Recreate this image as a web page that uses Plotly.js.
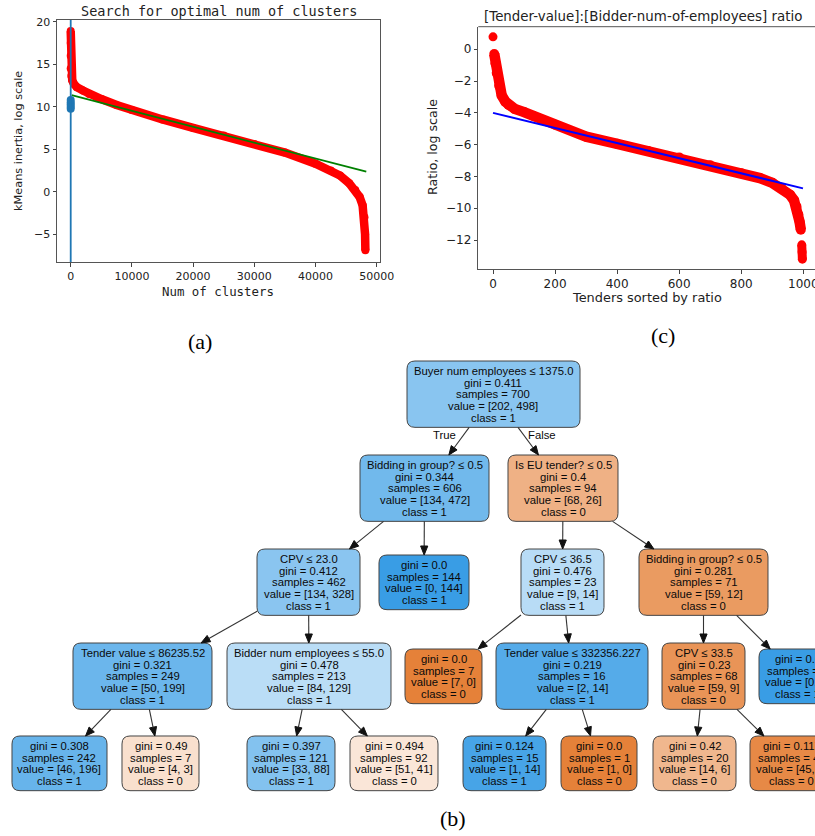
<!DOCTYPE html>
<html><head><meta charset="utf-8">
<script src="https://cdn.plot.ly/plotly-3.0.1.min.js"></script>
<style>html,body{margin:0;padding:0;background:#fff;}#chart{width:815px;height:836px;}</style>
</head><body><div id="chart"></div>
<script>
// ---------- (a) kMeans inertia ----------
const clustersX = [0,0,0,0,100,250,500,1000,2000,3000,5000,7500,10000,15000,20000,25000,30000,35000,40000,42500,44000,45500,46500,47200,47700,48000,48100,48150];
const inertiaY  = [18.9,17.5,16.0,14.5,13.6,13.1,12.7,12.3,11.9,11.5,10.9,10.2,9.6,8.5,7.5,6.6,5.6,4.6,3.3,2.5,1.9,1.0,0.2,-0.6,-1.6,-3.0,-5.0,-6.9];
const optimalX = [0,0,0,0,0];
const optimalY = [9.75,10.0,10.25,10.5,10.8];
const optimalLineX = 0;
const inertiaFitX = [150,48300];
const inertiaFitY = [11.35,2.35];
const clusterTicks = [0,10000,20000,30000,40000,50000];
const inertiaTicks = [-5,0,5,10,15,20];

// ---------- (c) ratio ----------
const ratioHeadX = [0];
const ratioHeadY = [0.78];
const ratioX = [4,8,12,20,28,40,50,70,100,130,160,200,300,400,500,600,700,800,860,900,930,957,970,978,984,988,992];
const ratioY = [-0.3,-0.9,-1.5,-2.3,-2.9,-3.3,-3.5,-3.75,-3.95,-4.2,-4.45,-4.75,-5.5,-5.95,-6.4,-6.8,-7.3,-7.8,-8.1,-8.4,-8.75,-9.15,-9.5,-9.9,-10.4,-10.85,-11.35];
const ratioTailX = [995,996,997];
const ratioTailY = [-12.3,-12.75,-13.2];
const ratioFitX = [0,999];
const ratioFitY = [-4.0,-8.75];
const tenderTicks = [0,200,400,600,800,1000];
const ratioTicks = [-12,-10,-8,-6,-4,-2,0];

// ---------- (b) decision tree ----------
const nodeSplit = ['Buyer num employees \u2264 1375.0','Bidding in group? \u2264 0.5','Is EU tender? \u2264 0.5','CPV \u2264 23.0',null,'CPV \u2264 36.5','Bidding in group? \u2264 0.5','Tender value \u2264 86235.52','Bidder num employees \u2264 55.0',null,'Tender value \u2264 332356.227','CPV \u2264 33.5',null,null,null,null,null,null,null,null,null];
const nodeGini = ['0.411','0.344','0.4','0.412','0.0','0.476','0.281','0.321','0.478','0.0','0.219','0.23','0.0','0.308','0.49','0.397','0.494','0.124','0.0','0.42','0.117'];
const nodeSamples = [700,606,94,462,144,23,71,249,213,7,16,68,3,242,7,121,92,15,1,20,48];
const nodeValue0 = [202,134,68,134,0,9,59,50,84,7,2,59,0,46,4,33,51,1,1,14,45];
const nodeValue1 = [498,472,26,328,144,14,12,199,129,0,14,9,3,196,3,88,41,14,0,6,3];
const nodeClass = [1,1,0,1,1,1,0,1,1,0,1,0,1,1,0,1,0,1,0,0,0];
const nodeParent = [null,0,0,1,1,2,2,3,3,5,5,6,6,7,7,8,8,10,10,11,11];
const edgeLabels = ['True','False'];
const captions = ['(a)','(c)','(b)'];

// ---------- layout (pixel positions) ----------
const W = 815, H = 836;
const nodeCX  = [493.5,424.5,563,308.5,424,562.5,703.5,142.5,309,443.5,572,703.5,797.5,59.5,160.5,291,394,504.5,599,694.5,791.5];
const nodeTop = [361,455,455,549,555,549,549,643,643,649,643,643,649,736,736,736,736,736,736,736,736];
const nodeW   = [173,129,110,103,90,83,129,139,164,77,152,83,77,95,77,88,88,83,76,83,83];
const LINE = 11.67;

const px = x => x / W;
const py = y => 1 - y / H;

const classRGB = [[229,129,57],[57,157,229]];
function nodeColor(i){
  const a = nodeValue0[i], b = nodeValue1[i], t = a + b;
  const f = [a/t, b/t];
  const hi = f[0] >= f[1] ? 0 : 1, lo = 1 - hi;
  const alpha = (f[hi] - f[lo]) / (1 - f[lo]);
  const c = classRGB[hi].map(v => Math.round(alpha*v + (1-alpha)*255));
  return 'rgb(' + c.join(',') + ')';
}

const shapes = [];
const annotations = [];
const treeFont = {family:'Liberation Sans, Arial, sans-serif', size:11.3, color:'#0a0a0a'};

const nodeLines = nodeGini.map((g,i) => {
  const L = [];
  if (nodeSplit[i]) L.push(nodeSplit[i]);
  L.push('gini = ' + g);
  L.push('samples = ' + nodeSamples[i]);
  L.push('value = [' + nodeValue0[i] + ', ' + nodeValue1[i] + ']');
  L.push('class = ' + nodeClass[i]);
  return L;
});
const nodeH = nodeLines.map(L => L.length*LINE + 8);
const nodeCY = nodeTop.map((t,i) => t + nodeH[i]/2);

function roundRect(x0,y0,x1,y1,r){
  const P = (x,y) => px(x).toFixed(5) + ',' + py(y).toFixed(5);
  return 'M' + P(x0+r,y0) + ' L' + P(x1-r,y0) + ' Q' + P(x1,y0) + ' ' + P(x1,y0+r) +
         ' L' + P(x1,y1-r) + ' Q' + P(x1,y1) + ' ' + P(x1-r,y1) +
         ' L' + P(x0+r,y1) + ' Q' + P(x0,y1) + ' ' + P(x0,y1-r) +
         ' L' + P(x0,y0+r) + ' Q' + P(x0,y0) + ' ' + P(x0+r,y0) + ' Z';
}

nodeLines.forEach((L,i) => {
  const x0 = nodeCX[i] - nodeW[i]/2, x1 = nodeCX[i] + nodeW[i]/2;
  const y0 = nodeTop[i], y1 = nodeTop[i] + nodeH[i];
  shapes.push({type:'path', xref:'paper', yref:'paper', path: roundRect(x0,y0,x1,y1,8),
    fillcolor: nodeColor(i), line:{color:'#444', width:1}, layer:'above'});
  L.forEach((txt,k) => {
    annotations.push({xref:'paper', yref:'paper', x: px(nodeCX[i]), y: py(nodeCY[i] + (k - (L.length-1)/2)*LINE),
      text: txt, showarrow:false, xanchor:'center', yanchor:'middle', font: treeFont});
  });
});

// edges: clip the centre-to-centre line at both boxes
function boxExit(i, dx, dy){
  const hw = nodeW[i]/2, hh = nodeH[i]/2;
  const t = Math.min(dx !== 0 ? hw/Math.abs(dx) : Infinity, dy !== 0 ? hh/Math.abs(dy) : Infinity);
  return [nodeCX[i] + dx*t, nodeCY[i] + dy*t];
}
nodeParent.forEach((p,c) => {
  if (p === null) return;
  const dx = nodeCX[c] - nodeCX[p], dy = nodeCY[c] - nodeCY[p];
  const [xs, ys] = boxExit(p, dx, dy);
  const [xe, ye] = boxExit(c, -dx, -dy);
  const len = Math.hypot(xe-xs, ye-ys);
  const ux = (xe-xs)/len, uy = (ye-ys)/len;
  const AL = 9, AW = 3.6;
  const bx = xe - ux*AL, by = ye - uy*AL;
  shapes.push({type:'line', xref:'paper', yref:'paper', x0:px(xs), y0:py(ys), x1:px(bx), y1:py(by),
    line:{color:'#333', width:1.1}, layer:'above'});
  const P = (x,y) => px(x).toFixed(5) + ',' + py(y).toFixed(5);
  shapes.push({type:'path', xref:'paper', yref:'paper',
    path: 'M' + P(xe,ye) + ' L' + P(bx - uy*AW, by + ux*AW) + ' L' + P(bx + uy*AW, by - ux*AW) + ' Z',
    fillcolor:'#111', line:{color:'#111', width:1}, layer:'above'});
});

// True/False labels
[[445,435],[542,435]].forEach((pos,k) => {
  annotations.push({xref:'paper', yref:'paper', x:px(pos[0]), y:py(pos[1]), text: edgeLabels[k],
    showarrow:false, xanchor:'center', yanchor:'middle', font: treeFont});
});

// captions
[[200,341],[663,335],[453,818]].forEach((pos,k) => {
  annotations.push({xref:'paper', yref:'paper', x:px(pos[0]), y:py(pos[1]), text: captions[k],
    showarrow:false, xanchor:'center', yanchor:'middle',
    font:{family:'Liberation Serif, Times New Roman, serif', size:22, color:'#000'}});
});

// chart titles and axis labels
const mono = 'DejaVu Sans Mono, monospace';
const sans = 'DejaVu Sans, sans-serif';
function label(text, x, y, font, size, angle){
  annotations.push({xref:'paper', yref:'paper', x:px(x), y:py(y), text:text, showarrow:false,
    xanchor:'center', yanchor:'middle', textangle: angle || 0, font:{family:font, size:size, color:'#222'}});
}
label('Search for optimal num of clusters', 218.5, 11, mono, 13.5);
label('Num of clusters', 218, 292, mono, 12.4);
label('kMeans inertia, log scale', 18, 141, sans, 11.3, -90);
label('[Tender-value]:[Bidder-num-of-employees] ratio', 643, 16.5, sans, 13.4);
label('Tenders sorted by ratio', 647, 298, sans, 12.9);
label('Ratio, log scale', 432, 147, sans, 12.6, -90);

// frames / ref lines
shapes.push({type:'line', xref:'x', yref:'y domain', x0:optimalLineX, x1:optimalLineX, y0:0, y1:1,
  line:{color:'#1f77b4', width:1.8}, layer:'above'});
shapes.push({type:'line', xref:'x2 domain', yref:'y2 domain', x0:0, x1:1, y0:1, y1:1,
  line:{color:'#555', width:1}, layer:'above'});

const fmt = v => v < 0 ? '\u2212' + Math.abs(v) : String(v);
const axBase = {showgrid:false, zeroline:false, ticks:'outside', ticklen:3.5, tickwidth:1, tickcolor:'#444',
  showline:true, linecolor:'#555', linewidth:1, ticklabeloverflow:'allow'};
const tickfontA = {family:sans, size:11, color:'#222'};
const tickfontC = {family:sans, size:12, color:'#222'};

const traces = [
  {x:clustersX, y:inertiaY, xaxis:'x', yaxis:'y', mode:'lines+markers', type:'scatter',
   line:{color:'#ff0000', width:8.5}, marker:{color:'#ff0000', size:8}, hoverinfo:'skip'},
  {x:inertiaFitX, y:inertiaFitY, xaxis:'x', yaxis:'y', mode:'lines', type:'scatter',
   line:{color:'#008000', width:1.8}, hoverinfo:'skip'},
  {x:optimalX, y:optimalY, xaxis:'x', yaxis:'y', mode:'markers', type:'scatter',
   marker:{color:'#1f77b4', size:8}, hoverinfo:'skip'},
  {x:ratioHeadX, y:ratioHeadY, xaxis:'x2', yaxis:'y2', mode:'markers', type:'scatter',
   marker:{color:'#ff0000', size:9}, hoverinfo:'skip'},
  {x:ratioX, y:ratioY, xaxis:'x2', yaxis:'y2', mode:'lines+markers', type:'scatter',
   line:{color:'#ff0000', width:10.5}, marker:{color:'#ff0000', size:10}, hoverinfo:'skip'},
  {x:ratioTailX, y:ratioTailY, xaxis:'x2', yaxis:'y2', mode:'lines+markers', type:'scatter',
   line:{color:'#ff0000', width:9}, marker:{color:'#ff0000', size:9}, hoverinfo:'skip'},
  {x:ratioFitX, y:ratioFitY, xaxis:'x2', yaxis:'y2', mode:'lines', type:'scatter',
   line:{color:'#0000ff', width:2}, hoverinfo:'skip'}
];

const layout = {
  width:W, height:H, margin:{l:0,r:0,t:0,b:0}, showlegend:false,
  paper_bgcolor:'#fff', plot_bgcolor:'rgba(0,0,0,0)',
  xaxis: Object.assign({}, axBase, {domain:[57/W, 380/W], range:[-2240,50540], mirror:true, tickfont:tickfontA,
    tickvals:clusterTicks, ticktext:clusterTicks.map(fmt), anchor:'y'}),
  yaxis: Object.assign({}, axBase, {domain:[1-262/H, 1-20/H], range:[-8.27,20.2], mirror:true, tickfont:tickfontA,
    tickvals:inertiaTicks, ticktext:inertiaTicks.map(fmt), anchor:'x'}),
  xaxis2: Object.assign({}, axBase, {domain:[478.3/W, 1], range:[-47.4,1037.7], tickfont:tickfontC,
    tickvals:tenderTicks, ticktext:tenderTicks.map(fmt), anchor:'y2'}),
  yaxis2: Object.assign({}, axBase, {domain:[1-269.3/H, 1-26.7/H], range:[-13.84,1.42], tickfont:tickfontC,
    tickvals:ratioTicks, ticktext:ratioTicks.map(fmt), anchor:'x2'}),
  shapes: shapes,
  annotations: annotations
};

Plotly.newPlot('chart', traces, layout, {staticPlot:true, displayModeBar:false});
</script>
</body></html>
